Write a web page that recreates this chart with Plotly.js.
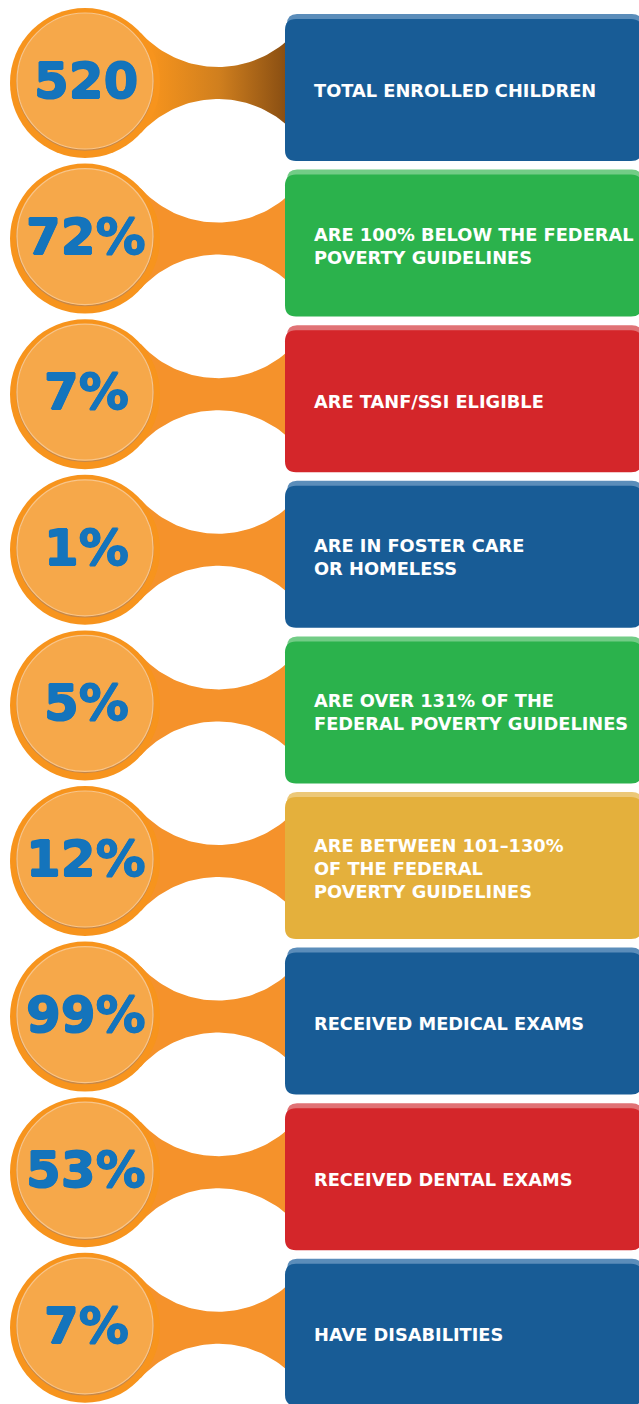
<!DOCTYPE html>
<html>
<head>
<meta charset="utf-8">
<script src="https://cdn.plot.ly/plotly-3.0.1.min.js"></script>
<style>
  html, body { margin: 0; padding: 0; background: #fff; }
  #chart { width: 639px; height: 1404px; }
</style>
</head>
<body>
<div id="chart"></div>
<script>
// 원본 수치
const values = ['520', '72%', '7%', '1%', '5%', '12%', '99%', '53%', '7%'];
const labels = [
    'TOTAL ENROLLED CHILDREN',
    'ARE 100% BELOW THE FEDERAL<br>POVERTY GUIDELINES',
    'ARE TANF/SSI ELIGIBLE',
    'ARE IN FOSTER CARE<br>OR HOMELESS',
    'ARE OVER 131% OF THE<br>FEDERAL POVERTY GUIDELINES',
    'ARE BETWEEN 101–130%<br>OF THE FEDERAL<br>POVERTY GUIDELINES',
    'RECEIVED MEDICAL EXAMS',
    'RECEIVED DENTAL EXAMS',
    'HAVE DISABILITIES'
];
const boxKinds = ['blue', 'green', 'red', 'blue', 'green', 'yellow', 'blue', 'red', 'blue'];

const palette = {
    blue:   {main: '#185c96', top: '#5b8dba'},
    green:  {main: '#2bb24c', top: '#72cc86'},
    red:    {main: '#d4262a', top: '#e07275'},
    yellow: {main: '#e4b03c', top: '#ecc878'}
};

// 레이아웃 기하
const W = 639, H = 1404;
const rowTop = 89, rowStep = 155.6;
const circX = 85, rOuter = 75, rInner = 68;
const boxX0 = 285, boxX1 = 642;
const neckX = 218, neckHalf = 16;

// 연결부 윤곽: 원에 접하는 오목한 원호
function connectorPoly(cy) {
    const dx0 = neckX - circX;
    const R = (dx0 * dx0 + neckHalf * neckHalf - rOuter * rOuter) / (2 * (rOuter - neckHalf));
    const dist = R + rOuter;
    const tx = circX + rOuter * dx0 / dist;   // 접점 x
    const top = [], bot = [];
    const xsRaw = [tx];
    for (let x = Math.ceil(tx); x <= 300; x += 3) xsRaw.push(x);
    xsRaw.forEach(x => {
        const dx = x - neckX;
        const off = neckHalf + R - Math.sqrt(Math.max(R * R - dx * dx, 0));
        top.push([x, cy - off]);
        bot.push([x, cy + off]);
    });
    bot.reverse();
    const pts = [...top, ...bot, [circX, cy]];
    return {xs: pts.map(p => p[0]), ys: pts.map(p => p[1])};
}

function roundRect(x0, y0, x1, y1, r) {
    return `M${x0 + r},${y0} L${x1 - r},${y0} Q${x1},${y0} ${x1},${y0 + r} ` +
        `L${x1},${y1 - r} Q${x1},${y1} ${x1 - r},${y1} L${x0 + r},${y1} ` +
        `Q${x0},${y1} ${x0},${y1 - r} L${x0},${y0 + r} Q${x0},${y0} ${x0 + r},${y0} Z`;
}

const traces = [];
const shapes = [];
const annotations = [];
const numShadow = '0.7px 0 0 #1474bc, -0.7px 0 0 #1474bc, 0 0.7px 0 #1474bc, 0 -0.7px 0 #1474bc';

values.forEach((val, i) => {
    const by = rowTop + rowStep * i;   // 박스 중심
    const cy = by - 6;                  // 원 중심

    // === 연결부 (원 -> 박스) ===
    const poly = connectorPoly(cy);
    const conn = {
        x: poly.xs,
        y: poly.ys,
        type: 'scatter',
        mode: 'lines',
        fill: 'toself',
        fillcolor: '#f5922b',
        line: {width: 0, color: 'rgba(0,0,0,0)'},
        hoverinfo: 'skip',
        showlegend: false
    };
    if (i === 0) {
        conn.fillgradient = {
            type: 'horizontal',
            start: 150,
            stop: 288,
            colorscale: [[0, '#f7941d'], [0.5, '#d07f1e'], [1, '#874d12']]
        };
    }
    traces.push(conn);

    // === 원 ===
    shapes.push({
        type: 'circle', xref: 'x', yref: 'y',
        x0: circX - rOuter, x1: circX + rOuter, y0: cy - rOuter, y1: cy + rOuter,
        fillcolor: '#f7941d', line: {width: 0}
    });
    const icy = cy - 2;
    shapes.push({
        type: 'circle', xref: 'x', yref: 'y',
        x0: circX - rInner, x1: circX + rInner, y0: icy - rInner + 1, y1: icy + rInner + 1,
        fillcolor: 'rgba(0,0,0,0)', line: {width: 1.5, color: '#c4874a'}
    });
    shapes.push({
        type: 'circle', xref: 'x', yref: 'y',
        x0: circX - rInner, x1: circX + rInner, y0: icy - rInner, y1: icy + rInner,
        fillcolor: '#f6a84a', line: {width: 1.2, color: '#f8c58a'}
    });

    // === 박스 ===
    const pal = palette[boxKinds[i]];
    shapes.push({
        type: 'path', xref: 'x', yref: 'y',
        path: roundRect(boxX0 + 2, by - 75, boxX1, by - 40, 10),
        fillcolor: pal.top, line: {width: 0}
    });
    shapes.push({
        type: 'path', xref: 'x', yref: 'y',
        path: roundRect(boxX0, by - 70, boxX1, by + 72, 11),
        fillcolor: pal.main, line: {width: 0}
    });

    // === 텍스트 ===
    annotations.push({
        x: circX + 1, y: cy - 2, xref: 'x', yref: 'y',
        text: val, showarrow: false,
        xanchor: 'center', yanchor: 'middle',
        font: {family: 'DejaVu Sans', size: 50, color: '#1474bc', weight: 'bold', shadow: numShadow}
    });
    annotations.push({
        x: 312, y: by + 1, xref: 'x', yref: 'y',
        text: labels[i], showarrow: false,
        xanchor: 'left', yanchor: 'middle', align: 'left',
        font: {family: 'DejaVu Sans', size: 17.8, color: '#ffffff', weight: 'bold'}
    });
});

Plotly.newPlot('chart', traces, {
    width: W,
    height: H,
    margin: {t: 0, b: 0, l: 0, r: 0},
    xaxis: {range: [0, W], visible: false, fixedrange: true},
    yaxis: {range: [H, 0], visible: false, fixedrange: true},
    shapes: shapes,
    annotations: annotations,
    plot_bgcolor: '#ffffff',
    paper_bgcolor: '#ffffff',
    showlegend: false
}, {displayModeBar: false, staticPlot: true});
</script>
</body>
</html>
